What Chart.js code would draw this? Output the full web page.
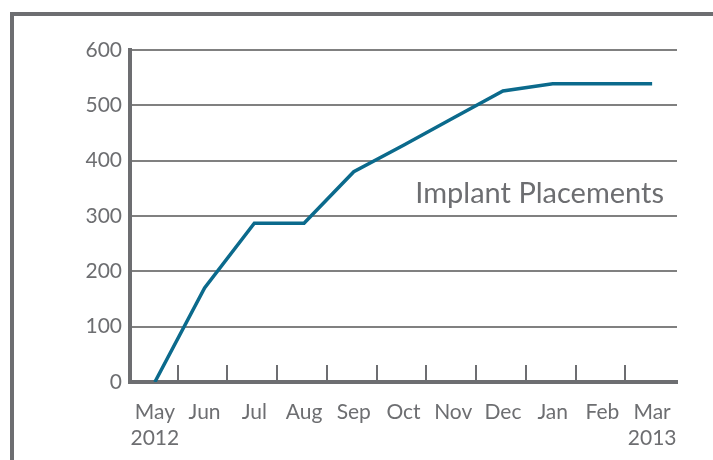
<!DOCTYPE html>
<html>
<head>
<meta charset="utf-8">
<script src="https://cdn.jsdelivr.net/npm/chart.js@4"></script>
<style>
    body { margin: 0; background: #fff; }
    #wrap { position: relative; width: 713px; height: 460px; overflow: hidden; }
    #frame {
        position: absolute; left: 10px; top: 12px; width: 800px; height: 500px;
        border-left: 4px solid #6d6e71; border-top: 4px solid #6d6e71;
    }
    #grafico { position: absolute; left: 0; top: 0; }
</style>
</head>
<body>
<div id="wrap">
    <div id="frame"></div>
    <canvas id="grafico" width="713" height="460"></canvas>
</div>
<script>
// Dados do gráfico
const meses = ['May', 'Jun', 'Jul', 'Aug', 'Sep', 'Oct', 'Nov', 'Dec', 'Jan', 'Feb', 'Mar'];
const anoInicio = '2012';
const anoFim = '2013';
const colocacoes = [0, 170, 287, 287, 380, 428, 477, 526, 539, 539, 539];
const ticksY = [0, 100, 200, 300, 400, 500, 600];
const rotuloSerie = 'Implant Placements';

const cinza = '#6d6e71';
const azul = '#0b6a8c';

// Primeiro e último mês levam o ano embaixo
const rotulos = meses.map((m, i) => {
    if (i === 0) return [m, anoInicio];
    if (i === meses.length - 1) return [m, anoFim];
    return m;
});

// Marcas curtas no eixo x, entre as categorias, apontando para cima
const marcasX = {
    id: 'marcasX',
    afterDraw(chart) {
        const x = chart.scales.x;
        const ctx = chart.ctx;
        const base = chart.chartArea.bottom;
        ctx.save();
        ctx.strokeStyle = cinza;
        ctx.lineWidth = 2;
        for (let i = 0; i < meses.length - 1; i++) {
            const px = Math.round((x.getPixelForValue(i) + x.getPixelForValue(i + 1)) / 2) - 2;
            ctx.beginPath();
            ctx.moveTo(px, base);
            ctx.lineTo(px, base - 17);
            ctx.stroke();
        }
        ctx.restore();
    }
};

// Nome da série dentro da área do gráfico
const nomeSerie = {
    id: 'nomeSerie',
    afterDraw(chart) {
        const ctx = chart.ctx;
        const y = chart.scales.y.getPixelForValue(341);
        ctx.save();
        ctx.font = '29px Lato';
        ctx.fillStyle = cinza;
        ctx.textAlign = 'right';
        ctx.textBaseline = 'middle';
        ctx.fillText(rotuloSerie, chart.chartArea.right - 13, y);
        ctx.restore();
    }
};

new Chart(document.getElementById('grafico').getContext('2d'), {
    type: 'line',
    data: {
        labels: rotulos,
        datasets: [{
            label: rotuloSerie,
            data: colocacoes,
            borderColor: azul,
            borderWidth: 3.5,
            pointRadius: 0,
            tension: 0,
            fill: false
        }]
    },
    options: {
        responsive: false,
        animation: false,
        layout: { padding: { top: 50, right: 36, left: 0, bottom: 0 } },
        plugins: {
            legend: { display: false },
            tooltip: { enabled: false }
        },
        scales: {
            x: {
                offset: true,
                afterFit: (s) => { s.height = 78; },
                grid: { display: true, drawOnChartArea: false, drawTicks: false },
                border: { display: true, color: cinza, width: 4 },
                ticks: {
                    color: cinza,
                    font: { family: 'Lato', size: 21, lineHeight: 1.25 },
                    padding: 17,
                    maxRotation: 0,
                    autoSkip: false
                }
            },
            y: {
                min: 0,
                max: 600,
                afterFit: (s) => { s.width = 130; },
                afterBuildTicks: (s) => { s.ticks = ticksY.map(v => ({ value: v })); },
                grid: { color: '#808080', lineWidth: 2, drawTicks: false },
                border: { display: true, color: cinza, width: 4 },
                ticks: {
                    color: cinza,
                    font: { family: 'Lato', size: 21 },
                    padding: 8
                }
            }
        }
    },
    plugins: [marcasX, nomeSerie]
});
</script>
</body>
</html>
